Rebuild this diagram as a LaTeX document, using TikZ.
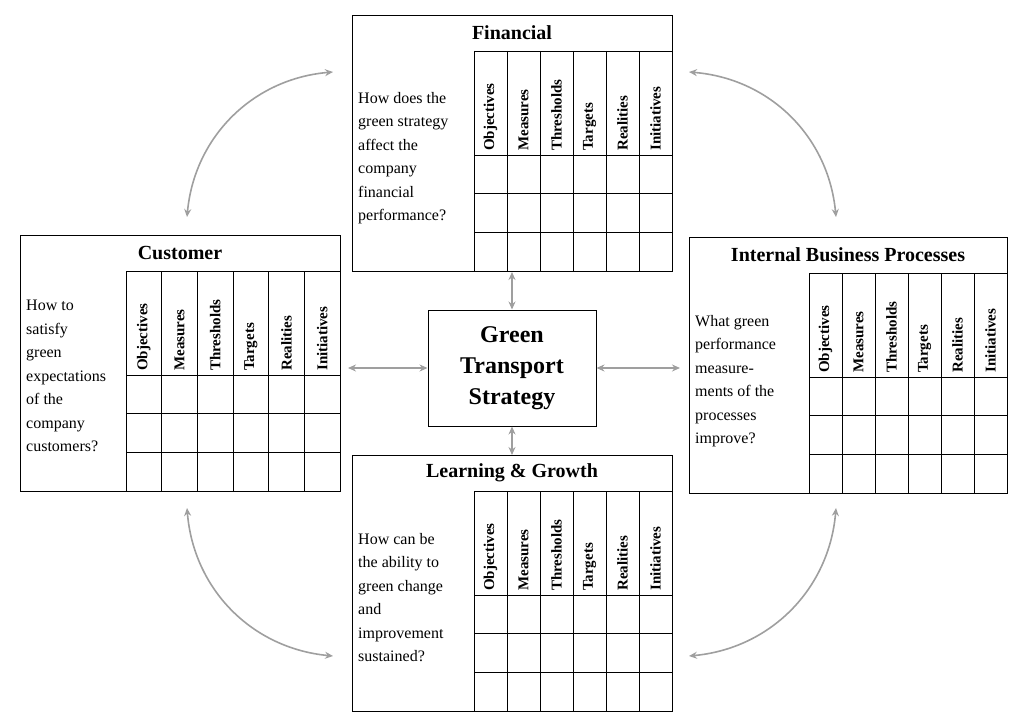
\documentclass[tikz,border=0pt]{standalone}
\usepackage{fontspec}
\setmainfont{Liberation Serif}
\usetikzlibrary{arrows.meta}
\tikzset{
  cardbox/.style={draw=black,line width=1pt},
  gridl/.style={draw=black,line width=0.8pt},
  hdr/.style={rotate=90,anchor=west,font=\bfseries\fontsize{15}{17}\selectfont,inner sep=0pt},
  ttl/.style={font=\bfseries\fontsize{20}{22}\selectfont},
  qtext/.style={anchor=north west,align=left,font=\fontsize{16}{23.5}\selectfont,inner sep=0pt},
  link/.style={draw=gray!75,line width=1.6pt,{Stealth[length=8pt,width=7pt]}-{Stealth[length=8pt,width=7pt]}}
}
% #1 name #2 left #3 top #4 right #5 gridx #6 title #7 text #8 text top #9 title y offset
\newcommand{\bscard}[9]{%
  \node[cardbox,minimum width={#4-#2},minimum height=256,anchor=north west,inner sep=0pt] (#1) at (#2,#3) {};
  \node[ttl] (#1t) at ({(#2+#4)/2+#9},#3+18) {#6};
  \pgfmathsetmacro{\cw}{(#4-#5)/6}
  \draw[gridl] (#5,#3+36) -- (#4,#3+36);
  \foreach \i in {0,...,5}{\draw[gridl] ({#5+\i*\cw},#3+36) -- ({#5+\i*\cw},#3+256);}
  \foreach \r in {140,178.7,217.3}{\draw[gridl] (#5,#3+\r) -- (#4,#3+\r);}
  \foreach \h [count=\i from 0] in {Objectives,Measures,Thresholds,Targets,Realities,Initiatives}{
    \node[hdr] at ({#5+(\i+0.5)*\cw},#3+136) {\h};}
  \node[qtext] (#1q) at (#2+6,#8) {#7};
}
\begin{document}
\begin{tikzpicture}[x=1pt,y=-1pt]
\useasboundingbox (0,0) rectangle (1024,727);
\bscard{fin}{352}{15}{672}{474}{Financial}{How does the\\green strategy\\affect the\\company\\financial\\performance?}{92}{0}
\bscard{cus}{20}{235}{340}{126}{Customer}{How to\\satisfy\\green\\expectations\\of the\\company\\customers?}{300}{0}
\bscard{ibp}{689}{237}{1007}{809}{Internal Business Processes}{What green\\performance\\measure-\\ments of the\\processes\\improve?}{315}{0}
\bscard{lg}{352}{455}{672}{474}{Learning \& Growth}{How can be\\the ability to\\green change\\and\\improvement\\sustained?}{533}{0}
\node[cardbox,minimum width=168,minimum height=116,align=center,font=\bfseries\fontsize{24}{31}\selectfont,inner sep=0pt] (gts) at (512,368) {Green\\Transport\\Strategy};
\coordinate (a1) at (187,217); \coordinate (a2) at (333,72);
\coordinate (b1) at (689,72); \coordinate (b2) at (836,217);
\coordinate (c1) at (187,508); \coordinate (c2) at (333,656);
\coordinate (d1) at (836,508); \coordinate (d2) at (689,656);
\draw[link] (a1) to[bend left=40] (a2);
\draw[link] (b1) to[bend left=40] (b2);
\draw[link] (c1) to[bend right=40] (c2);
\draw[link] (d1) to[bend left=40] (d2);
\coordinate (cr) at (348,368); \coordinate (ir) at (680,368);
\coordinate (ft) at (512,272); \coordinate (lt) at (512,455);
\draw[link] (cr) -- (gts.west);
\draw[link] (gts.east) -- (ir);
\draw[link] (ft) -- (gts.north);
\draw[link] (gts.south) -- (lt);
\end{tikzpicture}
\end{document}
